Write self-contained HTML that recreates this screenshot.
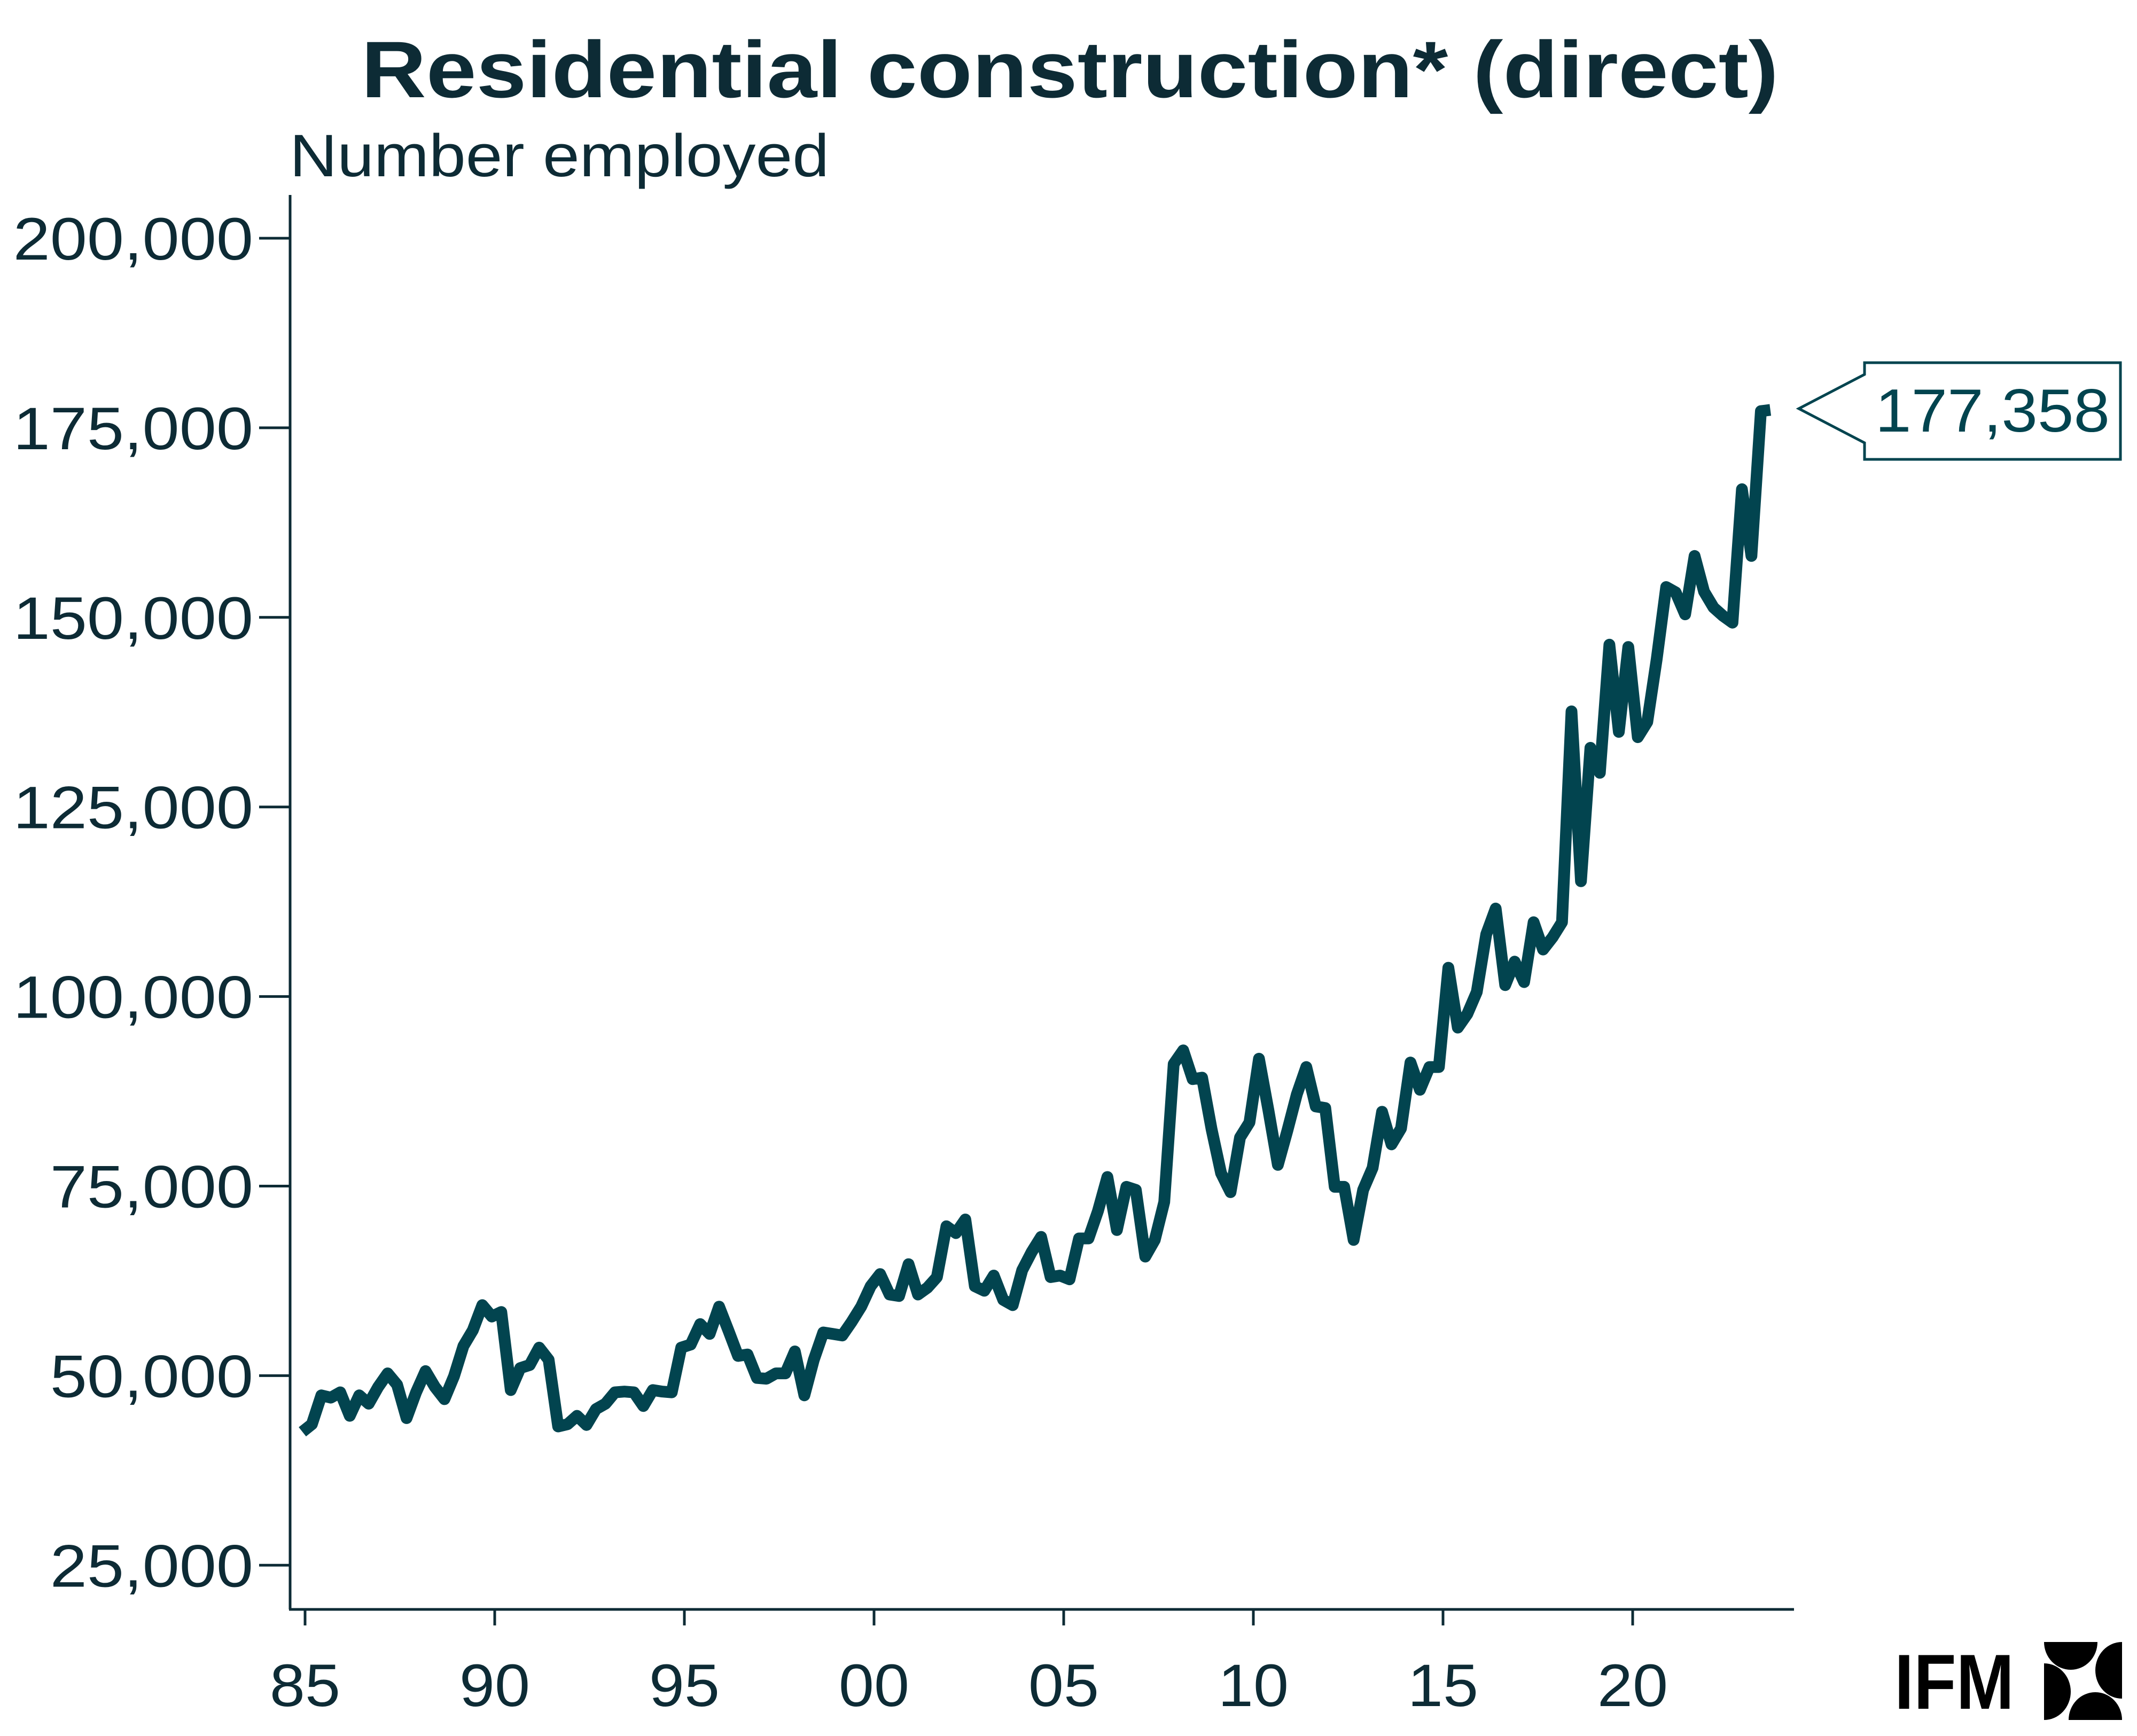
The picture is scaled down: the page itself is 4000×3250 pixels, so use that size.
<!DOCTYPE html>
<html><head><meta charset="utf-8">
<style>
html,body{margin:0;padding:0;background:#fff;}
svg{display:block;}
text{font-family:"Liberation Sans",sans-serif;}
</style></head>
<body>
<svg id="chart" width="4000" height="3250" viewBox="0 0 4000 3250">
  <text x="676" y="182" font-size="150" font-weight="bold" fill="#0d2b35" textLength="2653" lengthAdjust="spacingAndGlyphs">Residential construction* (direct)</text>
  <text x="542" y="330" font-size="112" fill="#0d2b35" textLength="1010" lengthAdjust="spacingAndGlyphs">Number employed</text>
  <line x1="543" y1="365" x2="543" y2="3013" stroke="#0d2b35" stroke-width="5"/>
  <line x1="541" y1="3013" x2="3358" y2="3013" stroke="#0d2b35" stroke-width="5"/>
  <g id="yticks"></g>
  <g id="xticks"></g>
  <path id="series" fill="none" stroke="#02444f" stroke-width="22" stroke-linejoin="round"/>
  <g>
    <polygon points="3367,765 3490,701 3490,679 3969,679 3969,860 3490,860 3490,829" fill="#fff" stroke="#02444f" stroke-width="5"/>
    <text id="lastLabel" x="3510" y="808" font-size="114" fill="#02444f" textLength="439" lengthAdjust="spacingAndGlyphs">177,358</text>
  </g>
  <g>
    <text x="3546" y="3199" font-size="146" font-weight="bold" fill="#000" textLength="224" lengthAdjust="spacingAndGlyphs">IFM</text>
    <path d="M3826,3074 L3926,3074 A50,52 0 0 1 3826,3074 Z" fill="#000"/>
    <path d="M3972,3074 L3972,3180 A50,53 0 0 1 3972,3074 Z" fill="#000"/>
    <path d="M3826,3114 L3826,3220 A50,53 0 0 0 3826,3114 Z" fill="#000"/>
    <path d="M3872,3220 L3972,3220 A50,52 0 0 0 3872,3220 Z" fill="#000"/>
  </g>
</svg>
<script>
const yTickValues = [25000, 50000, 75000, 100000, 125000, 150000, 175000, 200000];
const xTickYears = [1985, 1990, 1995, 2000, 2005, 2010, 2015, 2020];
const xTickLabels = ["85", "90", "95", "00", "05", "10", "15", "20"];
const startYear = 1984.93;
const endYear = 2023.63;
const employedThousands = [
42.6,43.6,47.4,47.1,47.8,44.7,47.4,46.3,48.5,50.3,
48.8,44.4,47.8,50.6,48.5,46.9,49.9,53.9,56.0,59.3,
57.8,58.4,48.1,51.0,51.4,53.7,52.1,43.3,43.6,44.7,
43.5,45.6,46.3,47.8,47.9,47.8,46.0,48.1,47.9,47.8,
53.7,54.1,56.8,55.5,59.1,55.9,52.6,52.8,49.7,49.6,
50.3,50.3,53.2,47.4,52.1,55.7,55.5,55.3,57.1,59.1,
61.8,63.4,60.7,60.5,64.7,60.7,61.6,63.0,69.7,68.8,
70.6,61.8,61.2,63.2,60.0,59.3,63.9,66.3,68.3,63.0,
63.2,62.7,68.1,68.1,71.7,76.2,69.2,74.9,74.5,65.7,
67.9,72.9,91.1,92.9,89.1,89.3,82.5,76.7,74.2,81.4,
83.4,91.8,85.0,77.8,82.3,87.1,90.7,85.5,85.3,74.9,
74.9,67.9,74.5,77.4,84.8,80.5,82.6,91.3,87.7,90.7,
90.7,103.8,95.9,97.7,100.6,108.2,111.6,101.5,104.6,101.9,
109.8,106.2,107.8,109.8,137.6,115.2,132.8,129.5,146.4,134.9,
146.1,134.2,136.2,144.5,154.0,153.3,150.4,158.1,153.4,151.3,
150.2,149.3,166.9,158.1,177.2,177.358
];
const NS = "http://www.w3.org/2000/svg";
function xScale(year){ return 571 + (year - 1985) * 71.0; }
function yScale(v){ return 446 + (200000 - v) / 25000 * 354.9; }
const yg = document.getElementById('yticks');
yTickValues.forEach(function(v){
  const y = yScale(v);
  const l = document.createElementNS(NS, 'line');
  l.setAttribute('x1', 485); l.setAttribute('x2', 543);
  l.setAttribute('y1', y); l.setAttribute('y2', y);
  l.setAttribute('stroke', '#0d2b35'); l.setAttribute('stroke-width', 5);
  
  
  yg.appendChild(l);
  const t = document.createElementNS(NS, 'text');
  t.setAttribute('x', 474); t.setAttribute('y', y + 40);
  t.setAttribute('text-anchor', 'end'); t.setAttribute('font-size', 112);
  t.setAttribute('fill', '#0d2b35');
  t.textContent = v.toLocaleString('en-US');
  
  
  yg.appendChild(t);
  const w = t.getComputedTextLength();
  t.setAttribute('textLength', (w * 1.11).toFixed(1));
  t.setAttribute('lengthAdjust', 'spacingAndGlyphs');
});
const xg = document.getElementById('xticks');
xTickYears.forEach(function(yr, i){
  const x = xScale(yr);
  const l = document.createElementNS(NS, 'line');
  l.setAttribute('x1', x); l.setAttribute('x2', x);
  l.setAttribute('y1', 3013); l.setAttribute('y2', 3043);
  l.setAttribute('stroke', '#0d2b35'); l.setAttribute('stroke-width', 5);
  
  
  xg.appendChild(l);
  const t = document.createElementNS(NS, 'text');
  t.setAttribute('x', x); t.setAttribute('y', 3194);
  t.setAttribute('text-anchor', 'middle'); t.setAttribute('font-size', 112);
  t.setAttribute('fill', '#0d2b35');
  t.textContent = xTickLabels[i];
  
  
  xg.appendChild(t);
  const w = t.getComputedTextLength();
  t.setAttribute('textLength', (w * 1.06).toFixed(1));
  t.setAttribute('lengthAdjust', 'spacingAndGlyphs');
});
const n = employedThousands.length;
const step = (endYear - startYear) / (n - 1);
let d = '';
employedThousands.forEach(function(v, i){
  const x = xScale(startYear + i * step);
  const y = yScale(v * 1000);
  d += (i ? 'L' : 'M') + x.toFixed(1) + ',' + y.toFixed(1);
});
document.getElementById('series').setAttribute('d', d);
const last = employedThousands[n - 1] * 1000;
document.getElementById('lastLabel').textContent = Math.round(last).toLocaleString('en-US');
</script>
</body></html>
